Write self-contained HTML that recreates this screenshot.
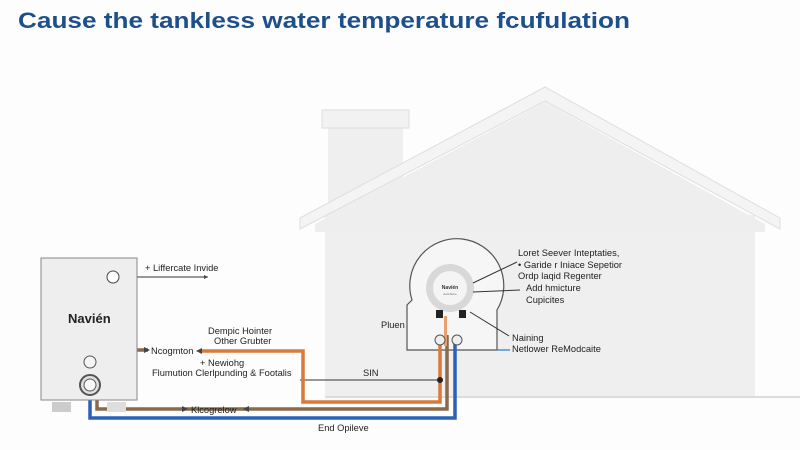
<!DOCTYPE html>
<html><head><meta charset="utf-8"><style>
html,body{margin:0;padding:0;background:#fff;}
svg{display:block;font-family:"Liberation Sans",sans-serif;}
</style></head><body>
<svg width="800" height="450" viewBox="0 0 800 450" xmlns="http://www.w3.org/2000/svg">
<rect width="800" height="450" fill="#fdfdfd"/>
<text x="18" y="28" font-size="22" font-weight="bold" fill="#1d4f8a" textLength="612" lengthAdjust="spacingAndGlyphs">Cause the tankless water temperature fcufulation</text>
<!-- house -->
<rect x="328" y="126" width="75" height="100" fill="#efefef"/>
<rect x="322" y="110" width="87" height="18" fill="#f2f2f2" stroke="#dddddd"/>
<rect x="325" y="215" width="430" height="182" fill="#efefef"/>
<polygon points="315,224 545,102 765,224 765,232 315,232" fill="#eeeeee"/>
<polygon points="300,218 545,87 780,218 780,229 545,101 300,229" fill="#f4f4f4" stroke="#dedede"/>
<line x1="325" y1="397" x2="800" y2="397" stroke="#dcdcdc" stroke-width="2"/>
<!-- heater outline -->
<path d="M412,300 A47,47 0 1 1 497,310 L497,350 L407,350 L407,305 Z" fill="#f6f6f6" stroke="#555" stroke-width="1.2"/>
<circle cx="450" cy="288" r="24" fill="#d8d8d8"/>
<circle cx="450" cy="288" r="17" fill="#f4f4f4"/>
<text x="450" y="289" font-size="5" font-weight="bold" text-anchor="middle" fill="#333">Navién</text>
<text x="450" y="295" font-size="3" text-anchor="middle" fill="#666">AutoTeme</text>
<rect x="436" y="310" width="7" height="8" fill="#222"/>
<rect x="459" y="310" width="7" height="8" fill="#222"/>
<line x1="497" y1="350" x2="510" y2="350" stroke="#4a90d9" stroke-width="1.5"/>
<!-- leader lines -->
<g stroke="#333" stroke-width="1">
<line x1="473" y1="283" x2="517" y2="262"/>
<line x1="473" y1="292" x2="520" y2="290"/>
<line x1="470" y1="312" x2="509" y2="336"/>
<line x1="300" y1="380" x2="440" y2="380"/>
<line x1="118" y1="277" x2="208" y2="277"/>
</g>
<!-- pipes -->
<g fill="none" stroke-width="3.5">
<polyline points="200,351 303,351 303,402 440,402 440,335" stroke="#d9793a"/>
<polyline points="90,368 90,350 148,350" stroke="#8a6a4a"/>
<polyline points="97,395 97,409 447,409 447,335" stroke="#8a6a4a"/>
<polyline points="90,395 90,418 455,418 455,340" stroke="#2b62b8"/>
</g>
<rect x="444" y="316" width="3" height="30" fill="#e8a070"/>
<circle cx="440" cy="340" r="5" fill="#eee" stroke="#555"/>
<circle cx="457" cy="340" r="5" fill="#eee" stroke="#555"/>
<circle cx="440" cy="380" r="3" fill="#222"/>
<!-- navien unit -->
<rect x="41" y="258" width="96" height="142" fill="#eeeeee" stroke="#888"/>
<rect x="52" y="402" width="19" height="10" fill="#ccc"/>
<rect x="107" y="402" width="19" height="10" fill="#ddd"/>
<circle cx="113" cy="277" r="6" fill="#fff" stroke="#444"/>
<text x="68" y="323" font-size="13" font-weight="bold" fill="#222">Navién</text>
<circle cx="90" cy="362" r="6" fill="#f5f5f5" stroke="#555"/>
<circle cx="90" cy="385" r="10" fill="#e0e0e0" stroke="#555" stroke-width="2"/>
<circle cx="90" cy="385" r="6" fill="#f8f8f8" stroke="#555"/>
<!-- labels -->
<g font-size="9.3" fill="#222">
<text x="145" y="271">+ Liffercate Invide</text>
<text x="208" y="334">Dempic Hointer</text>
<text x="214" y="344">Other Grubter</text>
<text x="151" y="354">Ncogmton</text>
<text x="200" y="366">+ Newiohg</text>
<text x="152" y="376">Flumution Clerlpunding &amp; Footalis</text>
<text x="363" y="376">SIN</text>
<text x="191" y="413">Klcogrelow</text>
<text x="318" y="431">End Opileve</text>
<text x="381" y="328">Pluen</text>
<text x="518" y="256">Loret Seever Inteptaties,</text>
<text x="518" y="268">• Garide r Iniace Sepetior</text>
<text x="518" y="279">Ordp laqid Regenter</text>
<text x="526" y="291">Add hmicture</text>
<text x="526" y="303">Cupicites</text>
<text x="512" y="341">Naining</text>
<text x="512" y="352">Netlower ReModcaite</text>
</g>
<g fill="#444">
<polygon points="150,350 144,347 144,353"/>
<polygon points="196,351 202,348 202,354"/>
<polygon points="188,409 182,406 182,412"/>
<polygon points="243,409 249,406 249,412"/>
<polygon points="208,277 204,275 204,279"/>
</g>
</svg>
</body></html>
